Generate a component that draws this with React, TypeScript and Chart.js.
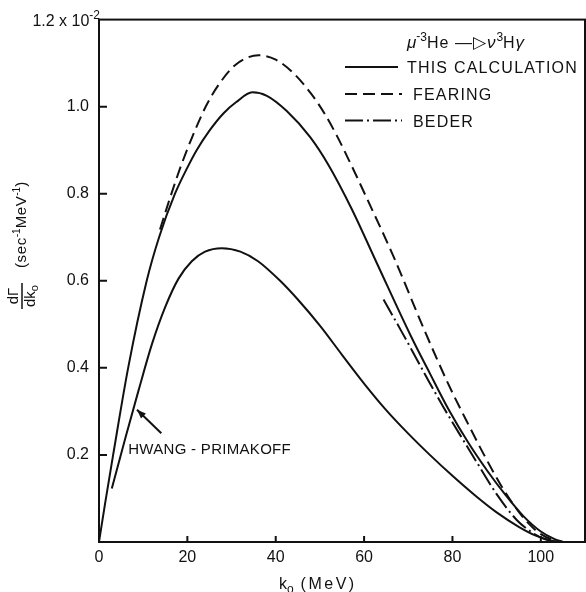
import React, { useEffect, useRef } from "react";
import { Chart, registerables } from "chart.js";

Chart.register(...registerables);

const FONT = '"Liberation Sans", Arial, sans-serif';
const INK = "#111111";

// values in units of 1e-2 sec^-1 MeV^-1, x in MeV
const calcX = [0, 1.4, 3.2, 6.6, 10.8, 13.6, 17.2, 20, 22.1, 25, 28.2, 31, 34.7, 38, 42.5, 47.8, 52, 57.2, 63, 70.5, 75, 79.1, 83.6, 88, 92, 96, 100, 103, 105];
const calcY = [0, 0.09, 0.2, 0.4, 0.6, 0.7, 0.8, 0.86, 0.9, 0.945, 0.985, 1.01, 1.033, 1.025, 0.99, 0.93, 0.865, 0.765, 0.638, 0.475, 0.385, 0.305, 0.228, 0.162, 0.108, 0.06, 0.024, 0.007, 0];

const hpX = [2.9, 6, 9, 12, 15, 18, 21, 24, 27.8, 32, 36, 41, 45, 50, 55, 60, 65, 70, 75, 80, 85, 90, 95, 99, 102, 104];
const hpY = [0.123, 0.24, 0.35, 0.455, 0.54, 0.605, 0.645, 0.667, 0.675, 0.667, 0.645, 0.6, 0.557, 0.497, 0.43, 0.364, 0.303, 0.249, 0.199, 0.152, 0.108, 0.068, 0.035, 0.014, 0.004, 0];

const fearX = [13.8, 16, 18.3, 21, 24.4, 27.4, 31, 36.1, 40, 44, 48, 51, 54, 57, 60.6, 66.7, 73.5, 79.1, 83, 87, 91, 94, 97, 100, 103, 105];
const fearY = [0.718, 0.788, 0.857, 0.928, 1.005, 1.055, 1.097, 1.118, 1.108, 1.077, 1.03, 0.985, 0.93, 0.868, 0.79, 0.655, 0.49, 0.362, 0.282, 0.203, 0.13, 0.083, 0.045, 0.018, 0.004, 0];

const bederX = [64.4, 68.4, 71.7, 74.6, 78, 82.5, 86, 90, 94.6, 98, 101, 105];
const bederY = [0.557, 0.485, 0.424, 0.37, 0.309, 0.233, 0.175, 0.11, 0.05, 0.022, 0.006, 0];

const xTicks = [0, 20, 40, 60, 80, 100];
const yTicks = [0.2, 0.4, 0.6, 0.8, 1.0];
const yTopValue = 1.2;
const yTopLabel = "1.2 x 10";
const yTopExp = "-2";

const seriesNames = ["THIS CALCULATION", "FEARING", "BEDER"];
const hpLabel = "HWANG - PRIMAKOFF";
const hpLabelAt = { x: 6.6, y: 0.217 };
const hpArrowFrom = { x: 14.1, y: 0.25 };
const hpArrowTo = { x: 8.6, y: 0.304 };

type Seg = { t: string; size: number; dy?: number; italic?: boolean; ls?: number };

function segWidth(ctx: CanvasRenderingContext2D, segs: Seg[]) {
  let w = 0;
  for (const s of segs) {
    ctx.font = `${s.italic ? "italic " : ""}${s.size}px ${FONT}`;
    (ctx as any).letterSpacing = `${s.ls ?? 0}px`;
    w += ctx.measureText(s.t).width;
  }
  (ctx as any).letterSpacing = "0px";
  return w;
}

function drawSegs(ctx: CanvasRenderingContext2D, segs: Seg[], x: number, y: number) {
  let cx = x;
  ctx.textAlign = "left";
  ctx.textBaseline = "alphabetic";
  for (const s of segs) {
    ctx.font = `${s.italic ? "italic " : ""}${s.size}px ${FONT}`;
    (ctx as any).letterSpacing = `${s.ls ?? 0}px`;
    ctx.fillText(s.t, cx, y + (s.dy ?? 0));
    cx += ctx.measureText(s.t).width;
  }
  (ctx as any).letterSpacing = "0px";
  return cx;
}

const decorPlugin = {
  id: "decor",
  afterDraw(chart: any) {
    const ctx: CanvasRenderingContext2D = chart.ctx;
    const { left, right, top, bottom } = chart.chartArea;
    const xs = chart.scales.x;
    const ys = chart.scales.y;
    ctx.save();
    ctx.strokeStyle = INK;
    ctx.fillStyle = INK;
    ctx.lineWidth = 2;
    // frame
    ctx.strokeRect(left, top, right - left, bottom - top);
    // inward ticks
    ctx.beginPath();
    for (const v of yTicks) {
      const py = ys.getPixelForValue(v);
      ctx.moveTo(left, py);
      ctx.lineTo(left + 8, py);
    }
    for (const v of xTicks) {
      if (v === 0) continue;
      const px = xs.getPixelForValue(v);
      ctx.moveTo(px, bottom);
      ctx.lineTo(px, bottom - 6);
    }
    ctx.stroke();

    // top y label
    const topSegs: Seg[] = [
      { t: yTopLabel, size: 16 },
      { t: yTopExp, size: 12, dy: -7 },
    ];
    const tw = segWidth(ctx, topSegs);
    drawSegs(ctx, topSegs, left + 1 - tw, ys.getPixelForValue(yTopValue) + 6);

    // x axis title
    drawSegs(
      ctx,
      [
        { t: "k", size: 16 },
        { t: "o", size: 12, dy: 4 },
        { t: " (MeV)", size: 16, ls: 2.5 },
      ],
      279,
      589
    );

    // y axis title (rotated)
    ctx.save();
    ctx.translate(22, 296);
    ctx.rotate(-Math.PI / 2);
    ctx.font = `15px ${FONT}`;
    ctx.textAlign = "center";
    ctx.textBaseline = "alphabetic";
    ctx.fillText("dΓ", 0, -4);
    ctx.lineWidth = 1.5;
    ctx.beginPath();
    ctx.moveTo(-13, 0);
    ctx.lineTo(13, 0);
    ctx.stroke();
    const den: Seg[] = [
      { t: "dk", size: 15 },
      { t: "o", size: 11, dy: 3 },
    ];
    const dw = segWidth(ctx, den);
    drawSegs(ctx, den, -dw / 2, 13);
    drawSegs(
      ctx,
      [
        { t: "(sec", size: 15, ls: 0.6 },
        { t: "-1", size: 10, dy: -6 },
        { t: "MeV", size: 15, ls: 0.6 },
        { t: "-1", size: 10, dy: -6 },
        { t: ")", size: 15 },
      ],
      28,
      4
    );
    ctx.restore();

    // legend
    ctx.lineWidth = 2;
    drawSegs(
      ctx,
      [
        { t: "μ", size: 17, italic: true },
        { t: "-", size: 12, dy: -8 },
        { t: "3", size: 12, dy: -7 },
        { t: "He ", size: 16, ls: 1 },
        { t: "—▷", size: 17, ls: 1 },
        { t: "ν", size: 17, italic: true, ls: 1 },
        { t: "3", size: 12, dy: -7 },
        { t: "H", size: 16, ls: 1 },
        { t: "γ", size: 17, italic: true },
      ],
      407,
      48
    );
    const rows = [
      { y: 67, dash: [] as number[], x2: 398, tx: 407 },
      { y: 94, dash: [12, 6], x2: 402, tx: 413 },
      { y: 120.5, dash: [18, 4, 2, 4], x2: 402, tx: 413 },
    ];
    rows.forEach((r, i) => {
      ctx.setLineDash(r.dash);
      ctx.beginPath();
      ctx.moveTo(345, r.y);
      ctx.lineTo(r.x2, r.y);
      ctx.stroke();
      ctx.setLineDash([]);
      drawSegs(ctx, [{ t: seriesNames[i], size: 16, ls: 1.2 }], r.tx, r.y + 6);
    });

    // Hwang-Primakoff annotation
    const ax1 = xs.getPixelForValue(hpArrowFrom.x);
    const ay1 = ys.getPixelForValue(hpArrowFrom.y);
    const ax2 = xs.getPixelForValue(hpArrowTo.x);
    const ay2 = ys.getPixelForValue(hpArrowTo.y);
    ctx.lineWidth = 2;
    ctx.beginPath();
    ctx.moveTo(ax1, ay1);
    ctx.lineTo(ax2, ay2);
    ctx.stroke();
    const ang = Math.atan2(ay2 - ay1, ax2 - ax1);
    const hl = 9;
    const hw = 3.5;
    ctx.beginPath();
    ctx.moveTo(ax2, ay2);
    ctx.lineTo(ax2 - hl * Math.cos(ang) + hw * Math.sin(ang), ay2 - hl * Math.sin(ang) - hw * Math.cos(ang));
    ctx.lineTo(ax2 - hl * Math.cos(ang) - hw * Math.sin(ang), ay2 - hl * Math.sin(ang) + hw * Math.cos(ang));
    ctx.closePath();
    ctx.fill();
    drawSegs(
      ctx,
      [{ t: hpLabel, size: 15, ls: 0.3 }],
      xs.getPixelForValue(hpLabelAt.x),
      ys.getPixelForValue(hpLabelAt.y) + 6
    );
    ctx.restore();
  },
};

function pts(xs: number[], ys: number[]) {
  return xs.map((x, i) => ({ x, y: ys[i] }));
}

export default function App() {
  const ref = useRef<HTMLCanvasElement | null>(null);
  useEffect(() => {
    if (!ref.current) return;
    const common = {
      showLine: true,
      pointRadius: 0,
      borderColor: INK,
      borderWidth: 2,
      cubicInterpolationMode: "monotone" as const,
      fill: false,
    };
    const chart = new Chart(ref.current, {
      type: "scatter",
      data: {
        datasets: [
          { ...common, label: seriesNames[0], data: pts(calcX, calcY) },
          { ...common, label: "HWANG-PRIMAKOFF", data: pts(hpX, hpY) },
          { ...common, label: seriesNames[1], data: pts(fearX, fearY), borderDash: [12, 6] },
          { ...common, label: seriesNames[2], data: pts(bederX, bederY), borderDash: [18, 4, 2, 4] },
        ],
      },
      options: {
        responsive: false,
        animation: false,
        layout: { padding: { top: 17, right: 1, left: 0, bottom: 0 } },
        plugins: { legend: { display: false }, tooltip: { enabled: false } },
        scales: {
          x: {
            type: "linear",
            min: 0,
            max: 110,
            afterBuildTicks: (s: any) => {
              s.ticks = xTicks.map((v) => ({ value: v }));
            },
            afterFit: (s: any) => {
              s.height = 50;
            },
            grid: { display: false, drawTicks: false },
            border: { display: false },
            ticks: {
              padding: 6,
              color: INK,
              font: { family: FONT, size: 16 },
              maxRotation: 0,
              autoSkip: false,
              callback: (v: any) => String(v),
            },
          },
          y: {
            type: "linear",
            min: 0,
            max: 1.2,
            afterBuildTicks: (s: any) => {
              s.ticks = yTicks.map((v) => ({ value: v }));
            },
            afterFit: (s: any) => {
              s.width = 99;
            },
            grid: { display: false, drawTicks: false },
            border: { display: false },
            ticks: {
              padding: 10,
              color: INK,
              font: { family: FONT, size: 16 },
              autoSkip: false,
              callback: (v: any) => Number(v).toFixed(1),
            },
          },
        },
      },
      plugins: [decorPlugin],
    });
    return () => chart.destroy();
  }, []);
  return (
    <div style={{ position: "absolute", left: 0, top: 0, width: 586, height: 592, background: "#fff" }}>
      <canvas ref={ref} width={586} height={592} style={{ display: "block" }} />
    </div>
  );
}
